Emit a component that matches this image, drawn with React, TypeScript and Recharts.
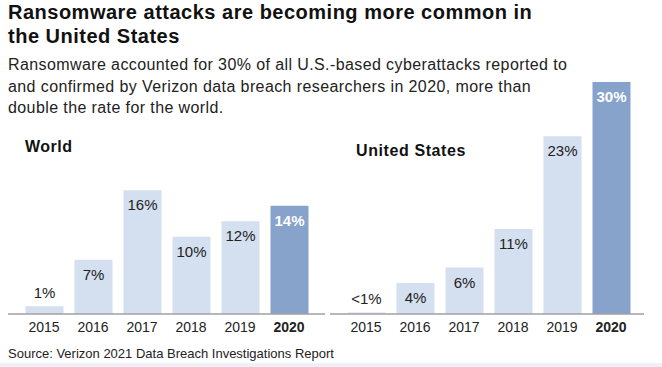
import React from 'react';
import { BarChart, Bar, XAxis, YAxis, Cell, LabelList } from 'recharts';

const years = ['2015', '2016', '2017', '2018', '2019', '2020'];
const worldValues = [1, 7, 16, 10, 12, 14];
const worldLabels = ['1%', '7%', '16%', '10%', '12%', '14%'];
const usValues = [0.2, 4, 6, 11, 23, 30];
const usLabels = ['<1%', '4%', '6%', '11%', '23%', '30%'];

const LIGHT = '#d4dfef';
const DARK = '#87a2cb';
const FONT = '"Liberation Sans", Arial, sans-serif';

const YearTick = (props: any) => {
  const { x, y, payload } = props;
  const last = payload.value === '2020';
  return (
    <text x={x} y={y} dy="0.71em" textAnchor="middle" fontSize={14} fontFamily={FONT}
      fontWeight={last ? 700 : 400} fill="#222">
      {payload.value}
    </text>
  );
};

const makeLabel = (labels: string[]) => (props: any) => {
  const { x, y, width, height, value } = props;
  const cx = x + width / 2;
  const last = value === labels[labels.length - 1];
  const small = height < 20;
  return (
    <text x={cx} y={small ? y - 8 : y + 20} textAnchor="middle" fontSize={15} fontFamily={FONT}
      fontWeight={last ? 700 : 400} fill={last ? '#fff' : '#222'}>
      {value}
    </text>
  );
};

const Panel = ({ values, labels, left, width, padL, padR }: any) => {
  const data = years.map((y, i) => ({ year: y, value: values[i], label: labels[i] }));
  return (
    <div style={{ position: 'absolute', left, top: 70 }}>
      <BarChart width={width} height={274} data={data} margin={{ top: 12, right: 0, bottom: 0, left: 0 }}>
        <XAxis dataKey="year" axisLine={{ stroke: '#a0a0a0', strokeWidth: 1.5 }} tickLine={false}
          tick={<YearTick />} height={30} padding={{ left: padL, right: padR }} interval={0} />
        <YAxis hide domain={[0, 30]} />
        <Bar dataKey="value" barSize={38} isAnimationActive={false}>
          {data.map((d, i) => (
            <Cell key={d.year} fill={i === data.length - 1 ? DARK : LIGHT} />
          ))}
          <LabelList dataKey="label" content={makeLabel(labels)} />
        </Bar>
      </BarChart>
    </div>
  );
};

export default function App() {
  return (
    <div style={{ position: 'absolute', left: 0, top: 0, width: 662, height: 367, background: '#fff', fontFamily: FONT, color: '#222', overflow: 'hidden' }}>
      <div style={{ position: 'absolute', left: 8, top: 0, fontSize: 20, fontWeight: 700, lineHeight: '24px', letterSpacing: 0.5, color: '#111' }}>
        Ransomware attacks are becoming more common in<br />the United States
      </div>
      <div style={{ position: 'absolute', left: 8, top: 54, fontSize: 16, lineHeight: '21.5px', letterSpacing: 0.4, color: '#222' }}>
        Ransomware accounted for 30% of all U.S.-based cyberattacks reported to<br />
        and confirmed by Verizon data breach researchers in 2020, more than<br />
        double the rate for the world.
      </div>
      <div style={{ position: 'absolute', left: 25, top: 138, fontSize: 16, fontWeight: 700, letterSpacing: 0.5, color: '#111' }}>World</div>
      <div style={{ position: 'absolute', left: 356, top: 142, fontSize: 16, fontWeight: 700, letterSpacing: 0.6, color: '#111' }}>United States</div>
      <Panel values={worldValues} labels={worldLabels} left={8} width={317} padL={11.5} padR={11.5} />
      <Panel values={usValues} labels={usLabels} left={330} width={314} padL={11.5} padR={8.5} />
      <div style={{ position: 'absolute', left: 8, top: 346, fontSize: 13, color: '#222' }}>
        Source: Verizon 2021 Data Breach Investigations Report
      </div>
      <div style={{ position: 'absolute', left: 0, top: 363, width: 662, height: 4, background: '#eef2f8' }} />
    </div>
  );
}
